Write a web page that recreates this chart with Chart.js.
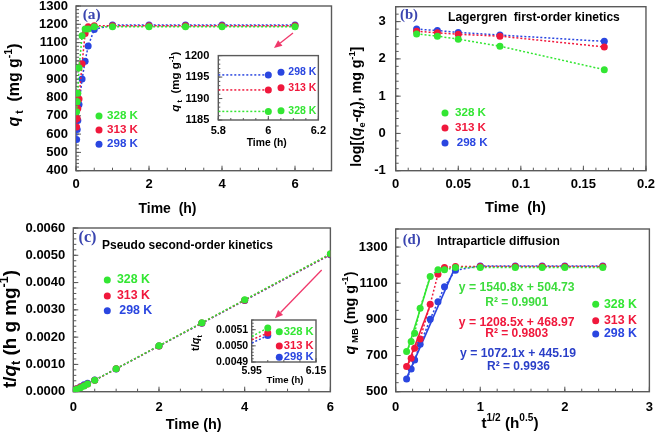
<!DOCTYPE html>
<html><head><meta charset="utf-8">
<script src="https://cdn.jsdelivr.net/npm/chart.js@4.4.1/dist/chart.umd.min.js"></script>
<style>
html,body{margin:0;padding:0;background:#fff;overflow:hidden;}
body{width:661px;height:435px;position:relative;}
canvas{position:absolute;}
</style></head><body>
<canvas id="cA"></canvas><canvas id="cB"></canvas><canvas id="cC"></canvas><canvas id="cD"></canvas>
<canvas id="cAi"></canvas><canvas id="cCi"></canvas>
<script>
// ---------------- DATA ----------------
const seriesNames = ['328 K', '313 K', '298 K'];
const timeH = [0.0167, 0.0333, 0.05, 0.0833, 0.1667, 0.25, 0.3333, 0.5, 1, 2, 3, 4, 6];
const sqrtTime = [0.129, 0.183, 0.224, 0.289, 0.408, 0.5, 0.577, 0.707, 1, 1.414, 1.732, 2, 2.449];
const qt328 = [722, 777, 823, 962, 1137, 1174, 1174, 1187, 1187, 1187, 1187, 1187, 1187];
const qt313 = [639, 685, 740, 792, 984, 1150, 1187, 1192, 1192, 1192, 1192, 1192, 1192];
const qt298 = [570, 625, 675, 762, 901, 998, 1081, 1172, 1195.5, 1195.5, 1195.5, 1195.5, 1195.5];

const timeLog = [0.0167, 0.0333, 0.05, 0.0833, 0.1667];
const logQ328 = [2.67, 2.61, 2.53, 2.34, 1.71];
const logQ313 = [2.74, 2.70, 2.66, 2.61, 2.32];
const logQ298 = [2.80, 2.76, 2.71, 2.64, 2.47];

const tq328 = [0.000023, 0.000043, 0.000061, 0.000087, 0.000147, 0.000213, 0.000284, 0.000421, 0.000842, 0.001685, 0.002527, 0.00337, 0.005055];
const tq313 = [0.000026, 0.000049, 0.000068, 0.000105, 0.000169, 0.000217, 0.000281, 0.000419, 0.000839, 0.001678, 0.002517, 0.003356, 0.005034];
const tq298 = [0.000029, 0.000053, 0.000074, 0.000109, 0.000185, 0.000251, 0.000308, 0.000426, 0.000836, 0.001673, 0.002509, 0.003346, 0.005019];

const insetATime = [5.8, 6];
const insetA328 = [1187, 1187];
const insetA313 = [1192, 1192];
const insetA298 = [1195.5, 1195.5];

const insetCTime = [5.95, 6.0];
const insetC328 = [0.005058, 0.005111];
const insetC313 = [0.005038, 0.005079];
const insetC298 = [0.005017, 0.005064];

const fitX328 = [0.129, 0.408], fitY328 = [713, 1135];
const fitX313 = [0.129, 0.408], fitY313 = [632, 978];
const fitX298 = [0.129, 0.707], fitY298 = [575, 1193];

const ticksDY = [500, 700, 900, 1100, 1300];

const eqText = ['y = 1540.8x + 504.73', 'R² = 0.9901', 'y = 1208.5x + 468.97', 'R² = 0.9803', 'y = 1072.1x + 445.19', 'R² = 0.9936'];

// ---------------- STYLE ----------------
const FF = '"Liberation Sans", Arial, Helvetica, sans-serif';
const SERIF = '"Liberation Serif", "Times New Roman", serif';
const GREEN = '#33e633', RED = '#f0183c', BLUE = '#2a46e0';
const LBL = '#3a45b0';
const ARROW = '#f0386b';
Chart.defaults.font.family = FF;
Chart.defaults.color = '#000';

function xy(xs, ys) { return xs.map((x, i) => ({x, y: ys[i]})); }

function series(xs, ys, color, extra) {
  return Object.assign({
    data: xy(xs, ys), showLine: true, borderColor: color, backgroundColor: color,
    borderWidth: 1.5, borderDash: [2, 2], pointRadius: 3.5, pointBorderWidth: 0,
    pointBackgroundColor: color
  }, extra || {});
}
function fitLine(xs, ys, color) {
  return {data: xy(xs, ys), showLine: true, borderColor: color, borderWidth: 1.6, pointRadius: 0};
}

// ---------------- RICH TEXT ----------------
function drawRich(c, sp) {
  const measure = size => sp.segs.map(([t, st = '']) => {
    const small = st.includes('b') || st.includes('p');
    const sz = small ? size * 0.66 : size;
    const font = (st.includes('i') ? 'italic ' : '') + 'bold ' + sz + 'px ' + (st.includes('s') ? SERIF : FF);
    c.font = font;
    return {t, font, w: c.measureText(t).width,
      dy: st.includes('b') ? size * 0.32 : (st.includes('p') ? -size * 0.36 : 0)};
  });
  let size = sp.size;
  let parts = measure(size);
  let W = parts.reduce((s, p) => s + p.w, 0);
  if (sp.w) { size = size * sp.w / W; parts = measure(size); W = parts.reduce((s, p) => s + p.w, 0); }
  c.save();
  c.translate(sp.x, sp.y);
  if (sp.rot) c.rotate(-Math.PI / 2);
  let x = sp.align === 'left' ? 0 : -W / 2;
  c.fillStyle = sp.color || '#000';
  c.textBaseline = 'middle'; c.textAlign = 'left';
  parts.forEach(p => { c.font = p.font; c.fillText(p.t, x, p.dy); x += p.w; });
  c.restore();
}

// annotations per canvas (page coordinates)
const ANN = {};

const decoPlugin = {
  id: 'deco',
  beforeDraw(chart) {
    const o = ANN[chart.canvas.id]; const a = chart.chartArea; const c = chart.ctx;
    if (o.bg) { c.save(); c.fillStyle = o.bg; c.fillRect(a.left, a.top, a.right - a.left, a.bottom - a.top); c.restore(); }
  },
  beforeDatasetsDraw(chart) {
    const o = ANN[chart.canvas.id]; const c = chart.ctx, a = chart.chartArea;
    c.save();
    c.strokeStyle = '#5a5a5a'; c.lineWidth = o.lw || 1.4;
    c.strokeRect(a.left, a.top, a.right - a.left, a.bottom - a.top);
    c.lineWidth = 1;
    ['x', 'y'].forEach(id => {
      const s = chart.scales[id], m = o.minor[id];
      const draw = (v, len) => {
        const p = s.getPixelForValue(v);
        c.beginPath();
        if (id === 'x') { c.moveTo(p, a.bottom); c.lineTo(p, a.bottom - len); }
        else { c.moveTo(a.left, p); c.lineTo(a.left + len, p); }
        c.stroke();
      };
      s.ticks.forEach(t => draw(t.value, o.majLen || 5));
      if (m) {
        const n0 = Math.ceil(s.min / m - 1e-6), n1 = Math.floor(s.max / m + 1e-6);
        for (let n = n0; n <= n1; n++) draw(n * m, o.minLen || 3);
      }
    });
    c.restore();
  },
  afterDraw(chart) {
    const o = ANN[chart.canvas.id]; const c = chart.ctx;
    c.save();
    c.translate(-o.ox, -o.oy);
    (o.texts || []).forEach(t => drawRich(c, t));
    (o.legend || []).forEach(l => {
      c.beginPath(); c.fillStyle = l.color; c.arc(l.dx, l.y, l.r || 3.5, 0, Math.PI * 2); c.fill();
      drawRich(c, {x: l.tx, y: l.y, segs: [[l.text]], size: l.size || 12, w: l.w, color: l.color, align: 'left'});
    });
    (o.arrows || []).forEach(([x1, y1, x2, y2]) => {
      c.strokeStyle = ARROW; c.fillStyle = ARROW; c.lineWidth = 1.3;
      const ang = Math.atan2(y2 - y1, x2 - x1), hl = 8, hw = 3.5;
      const bx = x2 - hl * Math.cos(ang), by = y2 - hl * Math.sin(ang);
      c.beginPath(); c.moveTo(x1, y1); c.lineTo(bx, by); c.stroke();
      c.beginPath(); c.moveTo(x2, y2);
      c.lineTo(bx + hw * Math.sin(ang), by - hw * Math.cos(ang));
      c.lineTo(bx - hw * Math.sin(ang), by + hw * Math.cos(ang));
      c.closePath(); c.fill();
    });
    c.restore();
  }
};

const numFmt = v => String(+(+v).toFixed(4));

function makeChart(id, box, area, datasets, sc, ann) {
  const cv = document.getElementById(id);
  cv.style.left = box.x + 'px'; cv.style.top = box.y + 'px';
  cv.width = box.w; cv.height = box.h;
  cv.style.width = box.w + 'px'; cv.style.height = box.h + 'px';
  const yW = area.l - box.x, xH = box.y + box.h - area.b;
  ANN[id] = Object.assign({ox: box.x, oy: box.y}, ann);
  const axis = (a, isX) => {
    const cfg = {
      type: 'linear', min: a.min, max: a.max,
      grid: {display: false, drawTicks: false}, border: {display: false},
      ticks: {stepSize: a.step, includeBounds: false, padding: a.pad, autoSkip: false, maxRotation: 0,
        font: {size: a.fs || 13, weight: 'bold', family: FF}, color: '#000', callback: a.fmt || numFmt},
      afterFit: s => { if (isX) s.height = xH; else s.width = yW; }
    };
    if (a.list) cfg.afterBuildTicks = s => { s.ticks = a.list.map(v => ({value: v})); };
    return cfg;
  };
  return new Chart(cv, {
    type: 'scatter',
    data: {datasets},
    options: {
      responsive: false, animation: false, devicePixelRatio: 1,
      layout: {padding: {left: 0, top: area.t - box.y, right: box.x + box.w - area.r, bottom: 0}},
      plugins: {legend: {display: false}, tooltip: {enabled: false}},
      scales: {x: axis(sc.x, true), y: axis(sc.y, false)}
    },
    plugins: [decoPlugin]
  });
}

const legendItems = (dx, tx, ys, size, ws) => seriesNames.map((n, i) => ({
  dx, tx: Array.isArray(tx) ? tx[i] : tx, y: ys[i], text: n, color: [GREEN, RED, BLUE][i], size, w: ws
}));

// ---------------- PANEL (a) ----------------
makeChart('cA', {x: 0, y: -12, w: 345, h: 235}, {l: 76, r: 331.5, t: 6, b: 170.7}, [
  series(timeH, qt328, GREEN), series(timeH, qt313, RED), series(timeH, qt298, BLUE)
], {
  x: {min: 0, max: 7, step: 2, pad: 6},
  y: {min: 400, max: 1300, step: 100, pad: 8}
}, {
  minor: {x: 0.5, y: 20},
  texts: [
    {x: 91.7, y: 15, segs: [['(a)', 's']], size: 17, w: 18, color: LBL},
    {x: 15, y: 85, rot: true, size: 16, w: 83, segs: [['q', 'i'], [' t', 'b'], ['  (mg g'], ['-1', 'p'], [')']]},
    {x: 167.5, y: 209, size: 14, w: 58, segs: [['Time  (h)']]}
  ],
  legend: legendItems(99, 107, [116, 130, 144.3], 12, 31),
  arrows: [[293, 33, 274, 48]]
});

// inset (a)
makeChart('cAi', {x: 160, y: 40, w: 170, h: 110}, {l: 218.3, r: 319, t: 50.7, b: 120}, [
  series(insetATime, insetA328, GREEN, {pointRadius: [0, 3.5]}),
  series(insetATime, insetA313, RED, {pointRadius: [0, 3.5]}),
  series(insetATime, insetA298, BLUE, {pointRadius: [0, 3.5]})
], {
  x: {min: 5.8, max: 6.2, step: 0.2, pad: 4, fs: 11},
  y: {min: 1185, max: 1200, step: 5, pad: 9, fs: 11}
}, {
  bg: '#fff', minor: {x: 0.05, y: 1}, majLen: 4, minLen: 2,
  texts: [
    {x: 176, y: 81.7, rot: true, size: 11, w: 60, segs: [['q', 'i'], [' t', 'b'], ['  (mg g'], ['-1', 'p'], [')']]},
    {x: 266.7, y: 143.3, size: 11, w: 40, segs: [['Time (h)']]}
  ],
  legend: legendItems(281, 288.3, [110.7, 87.7, 72.3], 12, 28)
});

// ---------------- PANEL (b) ----------------
makeChart('cB', {x: 340, y: -12, w: 321, h: 235}, {l: 395.7, r: 650.7, t: 6.7, b: 170.7}, [
  series(timeLog, logQ328, GREEN), series(timeLog, logQ313, RED), series(timeLog, logQ298, BLUE)
], {
  x: {min: 0, max: 0.2, step: 0.05, pad: 6},
  y: {min: -1, max: 3.4, step: 1, pad: 10}
}, {
  minor: {x: 0.01, y: 0.2},
  texts: [
    {x: 409, y: 15, segs: [['(b)', 's']], size: 17, w: 18, color: LBL},
    {x: 448, y: 18, size: 13, w: 172, align: 'left', segs: [['Lagergren  first-order kinetics']]},
    {x: 357.5, y: 106.7, rot: true, size: 15, w: 120,
      segs: [['log[('], ['q', 'i'], ['e', 'b'], ['-'], ['q', 'i'], ['t', 'b'], ['), mg g'], ['-1', 'p'], [']']]},
    {x: 515.5, y: 207.7, size: 14, w: 61, segs: [['Time  (h)']]}
  ],
  legend: legendItems(445, [455, 455, 456.7], [113, 128, 143], 12, 31)
});

// ---------------- PANEL (c) ----------------
makeChart('cC', {x: 0, y: 212, w: 342, h: 223}, {l: 73.3, r: 331.7, t: 228, b: 391.7}, [
  series(timeH, tq328, GREEN), series(timeH, tq313, RED), series(timeH, tq298, BLUE)
], {
  x: {min: 0, max: 6, step: 2, pad: 8},
  y: {min: 0, max: 0.006, step: 0.001, pad: 8, fmt: v => (+v).toFixed(4)}
}, {
  minor: {x: 0.5, y: 0.0002},
  texts: [
    {x: 87.5, y: 238.3, segs: [['(c)', 's']], size: 17, w: 18, color: LBL},
    {x: 102, y: 245.7, size: 13, w: 171, align: 'left', segs: [['Pseudo second-order kinetics']]},
    {x: 11, y: 329, rot: true, size: 15, w: 118, segs: [['t/'], ['q', 'i'], ['t', 'b'], [' (h g mg'], ['-1', 'p'], [')']]},
    {x: 193.7, y: 425, size: 14, w: 56, segs: [['Time (h)']]}
  ],
  legend: legendItems(107.3, [117, 117, 119.3], [280, 296, 310.7], 12, 33),
  arrows: [[321.7, 270, 275, 318.3]]
});

// inset (c)
makeChart('cCi', {x: 185, y: 310, w: 145, h: 80}, {l: 251.7, r: 316, t: 320, b: 362}, [
  series(insetCTime, insetC328, GREEN, {pointRadius: [0, 3.5]}),
  series(insetCTime, insetC313, RED, {pointRadius: [0, 3.5]}),
  series(insetCTime, insetC298, BLUE, {pointRadius: [0, 3.5]})
], {
  x: {min: 5.95, max: 6.15, step: 0.2, pad: 3, fs: 10.5},
  y: {min: 0.0049, max: 0.00516, step: 0.0001, pad: 3.5, fs: 10.5, fmt: v => (+v).toFixed(4)}
}, {
  bg: '#fff', minor: {x: 0.05, y: 0.00002}, majLen: 4, minLen: 2,
  texts: [
    {x: 196, y: 343, rot: true, size: 11, segs: [['t/'], ['q', 'i'], ['t', 'b']]},
    {x: 285, y: 380.7, size: 10.5, w: 37, segs: [['Time (h)']]}
  ],
  legend: legendItems(279.3, 283.7, [331.7, 346, 357.3], 11, 30)
});

// ---------------- PANEL (d) ----------------
makeChart('cD', {x: 340, y: 212, w: 321, h: 223}, {l: 395.7, r: 650.7, t: 229, b: 391.7}, [
  series(sqrtTime, qt328, GREEN), series(sqrtTime, qt313, RED), series(sqrtTime, qt298, BLUE),
  fitLine(fitX328, fitY328, GREEN), fitLine(fitX313, fitY313, RED), fitLine(fitX298, fitY298, BLUE)
], {
  x: {min: 0, max: 3, step: 1, pad: 8},
  y: {min: 500, max: 1400, step: 200, pad: 8, list: ticksDY}
}, {
  minor: {x: 0.2, y: 50},
  texts: [
    {x: 411.7, y: 240, segs: [['(d)', 's']], size: 17, w: 18, color: LBL},
    {x: 437, y: 241.7, size: 13, w: 123, align: 'left', segs: [['Intraparticle diffusion']]},
    {x: 351, y: 313, rot: true, size: 16, w: 83, segs: [['q', 'i'], [' MB', 'b'], [' (mg g'], ['-1', 'p'], [')']]},
    {x: 510, y: 424, size: 14, w: 57, segs: [['t'], ['1/2', 'p'], [' (h'], ['0.5', 'p'], [')']]},
    {x: 516.7, y: 287.3, size: 12, w: 116, color: '#3ddc3d', segs: [[eqText[0]]]},
    {x: 516.7, y: 302.3, size: 12, w: 63, color: '#3ddc3d', segs: [[eqText[1]]]},
    {x: 516.7, y: 322.3, size: 12, w: 116, color: RED, segs: [[eqText[2]]]},
    {x: 516.7, y: 334, size: 12, w: 63, color: RED, segs: [[eqText[3]]]},
    {x: 518, y: 353.3, size: 12, w: 116, color: '#2a3fc8', segs: [[eqText[4]]]},
    {x: 518.5, y: 366.7, size: 12, w: 63, color: '#2a3fc8', segs: [[eqText[5]]]}
  ],
  legend: legendItems(595.7, 604, [304.3, 320.7, 334], 12, 33)
});
</script>
</body></html>
